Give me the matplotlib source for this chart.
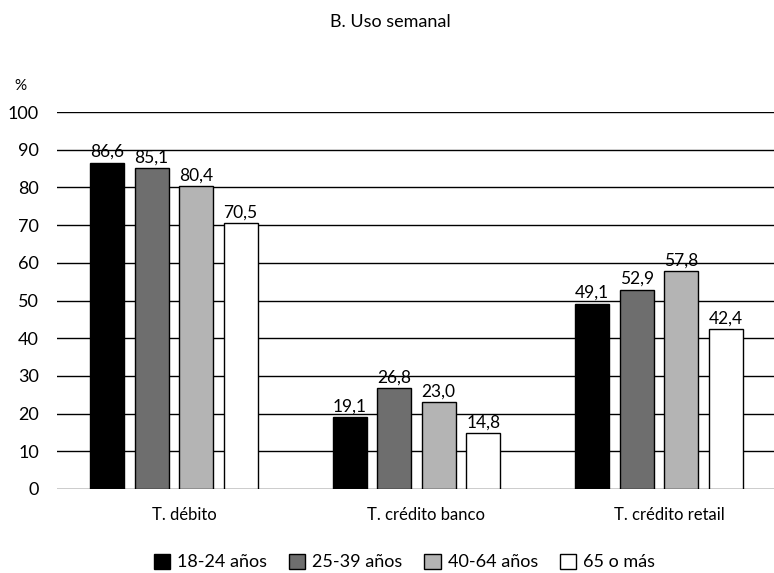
import matplotlib.pyplot as plt
import matplotlib.transforms as mtransforms
import numpy as np

categories = ["T. débito", "T. crédito banco", "T. crédito retail"]
groups = ["18-24 años", "25-39 años", "40-64 años", "65 o más"]
v_18_24 = [86.6, 19.1, 49.1]
v_25_39 = [85.1, 26.8, 52.9]
v_40_64 = [80.4, 23.0, 57.8]
v_65 = [70.5, 14.8, 42.4]
series = [v_18_24, v_25_39, v_40_64, v_65]
colors = ["#000000", "#6e6e6e", "#b4b4b4", "#ffffff"]

plt.rcParams['font.family'] = ['Lato', 'DejaVu Sans']

fig = plt.figure(figsize=(7.74, 5.73), dpi=100)
ax = fig.add_axes([0.0736, 0.1466, 0.9264, 0.6579])

x = np.arange(len(categories))
width = 0.14
step = 0.1835
for i, (vals, col, lab) in enumerate(zip(series, colors, groups)):
    pos = x + (i - 1.5) * step
    bars = ax.bar(pos, vals, width, color=col, edgecolor='black', linewidth=1,
                  label=lab, zorder=3)
    for b, v in zip(bars, vals):
        ax.annotate(f"{v:.1f}".replace('.', ','),
                    (b.get_x() + b.get_width() / 2, v),
                    xytext=(0, 2), textcoords='offset points',
                    ha='center', va='bottom', fontsize=12.5, zorder=4)

ax.set_xlim(-0.482, 2.474)
ax.set_ylim(0, 100)
ax.set_yticks(range(0, 101, 10))
ax.yaxis.grid(True, color='black', linewidth=1)
ax.set_axisbelow(True)
for s in ax.spines.values():
    s.set_visible(False)
ax.tick_params(axis='y', length=0, pad=13, labelsize=13)
ax.tick_params(axis='x', length=0, pad=13, labelsize=12)
ax.set_xticks(x)
ax.set_xticklabels(categories)
offset = mtransforms.ScaledTranslation(10 / 100, 0, fig.dpi_scale_trans)
for lbl in ax.get_xticklabels():
    lbl.set_transform(lbl.get_transform() + offset)

fig.text(20 / 774, 1 - 86 / 573, "%", ha='center', va='center', fontsize=11)
fig.text(0.505, 1 - 22 / 573, "B. Uso semanal", ha='center', va='center', fontsize=13)

fig.legend(loc='center', bbox_to_anchor=(0.5226, 1 - 562 / 573), ncol=4,
           frameon=False, handlelength=0.9, handleheight=0.9,
           handletextpad=0.4, columnspacing=1.2, fontsize=13)

fig.savefig("out.png", dpi=100)
